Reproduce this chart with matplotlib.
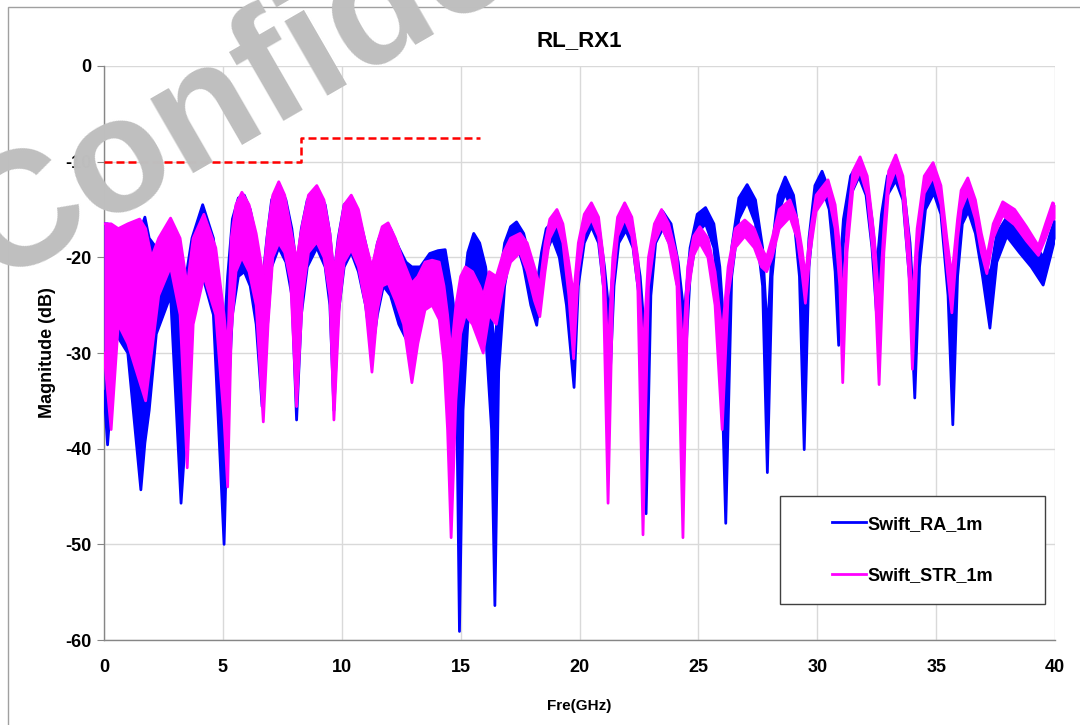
import matplotlib
matplotlib.use('Agg')
import matplotlib.pyplot as plt
from matplotlib.patches import Rectangle

plt.rcParams['font.family'] = ['Liberation Sans', 'DejaVu Sans']
plt.rcParams['axes.unicode_minus'] = False

# ── data (GHz, dB); hi / lo = envelope of the ripple ──
ra_freq = [0.0, 0.15, 0.5, 1.0, 1.55, 1.72, 1.9, 2.2, 2.8, 3.24, 3.45, 3.7, 4.15, 4.6,
           5.05, 5.2, 5.4, 5.65, 5.9, 6.15, 6.4, 6.65, 6.85, 7.05,
           7.35, 7.65, 7.9, 8.1, 8.3, 8.55, 8.95, 9.3, 9.5, 9.67,
           9.85, 10.1, 10.4, 10.7, 11.0, 11.27, 11.5, 11.75, 12.05, 12.4,
           12.7, 12.95, 13.3, 13.7, 14.05, 14.35, 14.6, 14.85, 14.95, 15.1,
           15.3, 15.55, 15.8, 16.05, 16.3, 16.44, 16.6, 16.85, 17.1, 17.35,
           17.65, 17.95, 18.2, 18.4, 18.6, 18.85, 19.15, 19.45, 19.77, 19.95,
           20.2, 20.5, 20.8, 21.05, 21.25, 21.45, 21.65, 21.95, 22.25, 22.55,
           22.8, 23.0, 23.2, 23.5, 23.85, 24.15, 24.4, 24.65, 24.95, 25.3,
           25.65, 25.9, 26.15, 26.4, 26.7, 27.05, 27.4, 27.7, 27.9, 28.1,
           28.35, 28.65, 29.0, 29.25, 29.45, 29.65, 29.9, 30.2, 30.5, 30.75,
           30.9, 31.1, 31.4, 31.75, 32.05, 32.3, 32.5, 32.7, 32.95, 33.3,
           33.6, 33.9, 34.1, 34.3, 34.55, 34.9, 35.2, 35.5, 35.7, 35.9,
           36.1, 36.35, 36.65, 36.95, 37.26, 37.55, 37.97, 38.5, 39.0, 39.5,
           39.8, 40.0]
ra_hi = [-16.5, -16.5, -17, -17, -17, -15.8, -18, -19, -17, -22, -22, -18, -14.5, -18,
         -28, -22, -16, -13.8, -13.5, -15, -18, -23, -18, -14,
         -12.3, -14, -17, -21, -17, -14, -12.8, -14.5, -17.5, -22,
         -18, -14.5, -13.8, -15.5, -18.5, -21.5, -18.5, -16.8, -17, -19,
         -20.5, -21, -21, -19.6, -19.3, -19.2, -23, -28, -32, -24,
         -19.5, -17.5, -18.5, -21, -26, -30, -23, -18.5, -16.8, -16.3,
         -17.5, -20.5, -23, -19.5, -17, -16.3, -17.5, -21, -27, -20,
         -16.2, -15.2, -16.5, -21, -26, -20, -16.5, -15.5, -17, -22,
         -30, -21, -16.5, -15.2, -16.5, -20.5, -26, -19, -15.5, -14.8,
         -16.5, -21, -30, -19, -13.8, -12.4, -14, -19, -28, -19,
         -13.5, -11.6, -13.5, -18, -27, -18, -12.5, -11.0, -13, -18,
         -23, -16, -11.5, -10.0, -11.5, -16, -21, -15.5, -11.5, -10.3,
         -12, -18.5, -27, -18, -13, -11.7, -13.5, -20, -28, -18,
         -14.5, -13.5, -15, -19, -22, -17.5, -15.8, -16.5, -18, -20,
         -17.5, -16]
ra_lo = [-34, -39.6, -28, -30, -44.3, -39.4, -36, -28, -24, -45.7, -38, -27, -22, -26,
         -50, -36, -26, -22, -21.5, -23, -27, -35.6, -28, -21,
         -19, -20.5, -24, -37, -26, -21, -19, -21, -25, -36,
         -26, -21, -19.5, -21.5, -25, -30, -26, -23, -24, -27,
         -28.5, -28, -26, -24.5, -24, -24, -30, -38, -59.1, -36,
         -27, -22, -24, -28, -38, -56.4, -32, -23, -19.5, -18.5,
         -21, -25, -27.1, -22.5, -19.5, -18, -20, -25, -33.6, -23,
         -18.5, -16.8, -18.5, -24, -34.6, -23, -18.5, -17.2, -19, -25,
         -46.8, -24, -18.5, -17, -19, -23.5, -33.1, -22, -17.5, -16.5,
         -19, -25, -47.8, -22, -16, -14.2, -16.5, -23, -42.5, -22,
         -15.5, -13.3, -15.5, -22, -40.1, -21, -14.5, -12.6, -15, -21.5,
         -29.2, -18.5, -13.5, -11.6, -13.5, -19, -26.2, -18, -13.5, -12,
         -14, -23, -34.7, -21, -15, -13.3, -15.5, -24, -37.5, -22,
         -16.5, -15.2, -17.5, -22, -27.4, -20.5, -17.8, -19.5, -21, -22.9,
         -20, -18]

str_freq = [0.0, 0.3, 0.6, 1.0, 1.5, 1.75, 2.0, 2.3, 2.8, 3.2, 3.5, 3.75, 4.2, 4.7,
            5.05, 5.2, 5.35, 5.55, 5.8, 6.1, 6.4, 6.7, 6.9, 7.1,
            7.35, 7.6, 7.85, 8.1, 8.35, 8.6, 8.95, 9.25, 9.5, 9.67,
            9.9, 10.1, 10.4, 10.7, 11.0, 11.27, 11.5, 11.7, 11.95, 12.25,
            12.6, 12.95, 13.2, 13.5, 13.8, 14.1, 14.3, 14.45, 14.6, 14.8,
            15.0, 15.2, 15.5, 15.8, 15.95, 16.2, 16.5, 16.8, 17.1, 17.5,
            17.8, 18.1, 18.33, 18.55, 18.75, 19.05, 19.3, 19.55, 19.75, 19.95,
            20.2, 20.5, 20.8, 21.0, 21.2, 21.4, 21.6, 21.9, 22.2, 22.45,
            22.67, 22.9, 23.15, 23.45, 23.75, 24.1, 24.35, 24.55, 24.8, 25.06,
            25.4, 25.7, 26.0, 26.25, 26.55, 26.95, 27.35, 27.65, 27.87, 28.1,
            28.4, 28.85, 29.15, 29.35, 29.5, 29.7, 29.95, 30.45, 30.75, 30.95,
            31.07, 31.25, 31.5, 31.8, 32.1, 32.4, 32.6, 32.8, 33.0, 33.3,
            33.6, 33.85, 34.0, 34.2, 34.5, 34.87, 35.2, 35.45, 35.66, 35.9,
            36.05, 36.33, 36.65, 36.9, 37.13, 37.4, 37.8, 38.3, 38.8, 39.3,
            39.6, 39.9, 40.0]
str_hi = [-16.5, -16.5, -17, -16.5, -16, -17, -20, -18, -15.9, -18, -23, -18, -15.5, -19,
          -26, -30, -18, -14.5, -13.2, -14.5, -17.5, -22, -17, -13.5,
          -12.1, -13.5, -17, -20.3, -16.5, -13.5, -12.5, -14, -17.5, -21.6,
          -17.5, -14.5, -13.5, -15, -18.5, -21, -18.5, -16.8, -16.4, -18,
          -20.5, -22.7, -22, -20.5, -20.3, -20.5, -23, -26, -30, -25,
          -22, -21, -21.5, -23, -24, -21.5, -22, -19.5, -18, -17.5,
          -18.5, -21, -23, -18.5, -16, -15.0, -16.5, -20.5, -24, -18.5,
          -15.5, -14.3, -15.8, -20, -30, -20, -15.8, -14.3, -15.8, -20,
          -30, -20, -16.5, -15.0, -16.5, -20, -30, -21, -17.8, -16.8,
          -18, -21.5, -28, -21, -17, -16.1, -17, -19, -20, -18,
          -15, -14.0, -16, -19, -22, -17.5, -13.5, -11.9, -14.5, -19,
          -25, -17, -11, -9.5, -11.5, -18, -25, -17, -11, -9.3,
          -11.5, -18, -25, -17, -11.5, -10.1, -12.5, -18, -22, -16,
          -13, -11.7, -14, -17.5, -20, -16.5, -14.2, -15, -16.8, -18.8,
          -16.5, -14.3, -14.5]
str_lo = [-30, -38, -27, -29, -33, -35, -30, -24, -21, -26, -42, -27, -22, -26,
          -37, -44, -28, -21.5, -20, -21.5, -25, -37.2, -27, -20,
          -18.5, -19.5, -22.5, -35.6, -24, -19.5, -18.4, -20, -24, -37,
          -25, -20.5, -19.2, -21, -25, -32, -25.5, -23, -22.7, -24.5,
          -27, -33.1, -29, -25.5, -25, -26.5, -31, -38, -49.3, -35,
          -28, -26, -27, -29, -30, -26, -27, -23, -20.5, -19.5,
          -21.5, -24.5, -26.2, -21.5, -18, -16.5, -18.5, -24, -30.6, -21.5,
          -17.5, -16, -17.8, -23, -45.7, -23, -17.8, -16, -17.8, -23,
          -49, -23, -18.5, -16.8, -18.5, -23, -49.3, -24, -19.8, -18.5,
          -20, -25, -38, -24, -19, -17.8, -19, -21, -21.5, -20,
          -17, -15.8, -18, -21.5, -24.8, -19.5, -15.2, -13.3, -17, -23,
          -33.1, -19.5, -12.8, -11, -13.5, -21, -33.3, -19.5, -12.8, -10.8,
          -13.5, -21.5, -31.7, -19.5, -13.3, -11.6, -14.5, -21, -25.8, -18,
          -15, -13.3, -16, -19.5, -21.7, -18, -15.6, -16.6, -18.3, -19.8,
          -18, -16, -16]

limit_freq = [0, 8.3, 15.8]
limit_db = [-10, -7.5, -7.5]

BLUE = '#0000FF'
MAG = '#FF00FF'

fig = plt.figure(figsize=(10.8, 7.25), dpi=100)
ax = fig.add_axes([0.0963, 0.1172, 0.8806, 0.7918])

for freq, hi, lo, col, lab in [(ra_freq, ra_hi, ra_lo, BLUE, 'Swift_RA_1m'),
                               (str_freq, str_hi, str_lo, MAG, 'Swift_STR_1m')]:
    ax.fill_between(freq, lo, hi, color=col, lw=0, zorder=3)
    ax.plot(freq, hi, color=col, lw=2.0, zorder=3, label=lab)
    ax.plot(freq, lo, color=col, lw=2.0, zorder=3)

ax.plot(limit_freq, limit_db, color='#FF0000', lw=1.8, ls=(0, (3.2, 1.6)),
        drawstyle='steps-post', zorder=4)

ax.set_xlim(0, 40)
ax.set_ylim(-60, 0)
ax.set_xticks(range(0, 41, 5))
ax.set_yticks(range(-60, 1, 10))
ax.grid(True, color='#D9D9D9', lw=1.0, zorder=0)
ax.set_axisbelow(True)
for s in ['top', 'right']:
    ax.spines[s].set_visible(False)
for s in ['left', 'bottom']:
    ax.spines[s].set_color('#868686')
    ax.spines[s].set_linewidth(1.0)
ax.tick_params(axis='y', length=5, color='#868686', labelsize=13, pad=4)
ax.tick_params(axis='x', length=0, labelsize=13, pad=14)
for t in ax.get_xticklabels() + ax.get_yticklabels():
    t.set_fontweight('bold')

ax.set_title('RL_RX1', fontsize=16, fontweight='bold', pad=14)
ax.set_xlabel('Fre(GHz)', fontsize=11, fontweight='bold', labelpad=16)
ax.set_ylabel('Magnitude (dB)', fontsize=13, fontweight='bold', labelpad=7)

# legend box like the Excel one
ax.add_patch(Rectangle((0.711, 0.0627), 0.2785, 0.188, transform=ax.transAxes,
                       facecolor='white', edgecolor='#404040', lw=1.0, zorder=5))
ax.legend(loc='center', bbox_to_anchor=(0.85, 0.157), frameon=False,
          prop={'size': 13, 'weight': 'bold'}, labelspacing=1.9,
          handlelength=1.9, handletextpad=0.1).set_zorder(6)

# outer chart border
fig.add_artist(Rectangle((8 / 1080, -0.05), 1.1, 1 - 7 / 725 + 0.05,
                         transform=fig.transFigure, fill=False,
                         edgecolor='#A0A0A0', lw=1.0))

# watermark
fig.text(-0.005, 0.608, 'Confidential', fontsize=118, color='#BFBFBF',
         fontweight='bold', rotation=30, rotation_mode='anchor',
         ha='left', va='baseline', zorder=10)

fig.savefig('out.png', dpi=100, facecolor='white')
